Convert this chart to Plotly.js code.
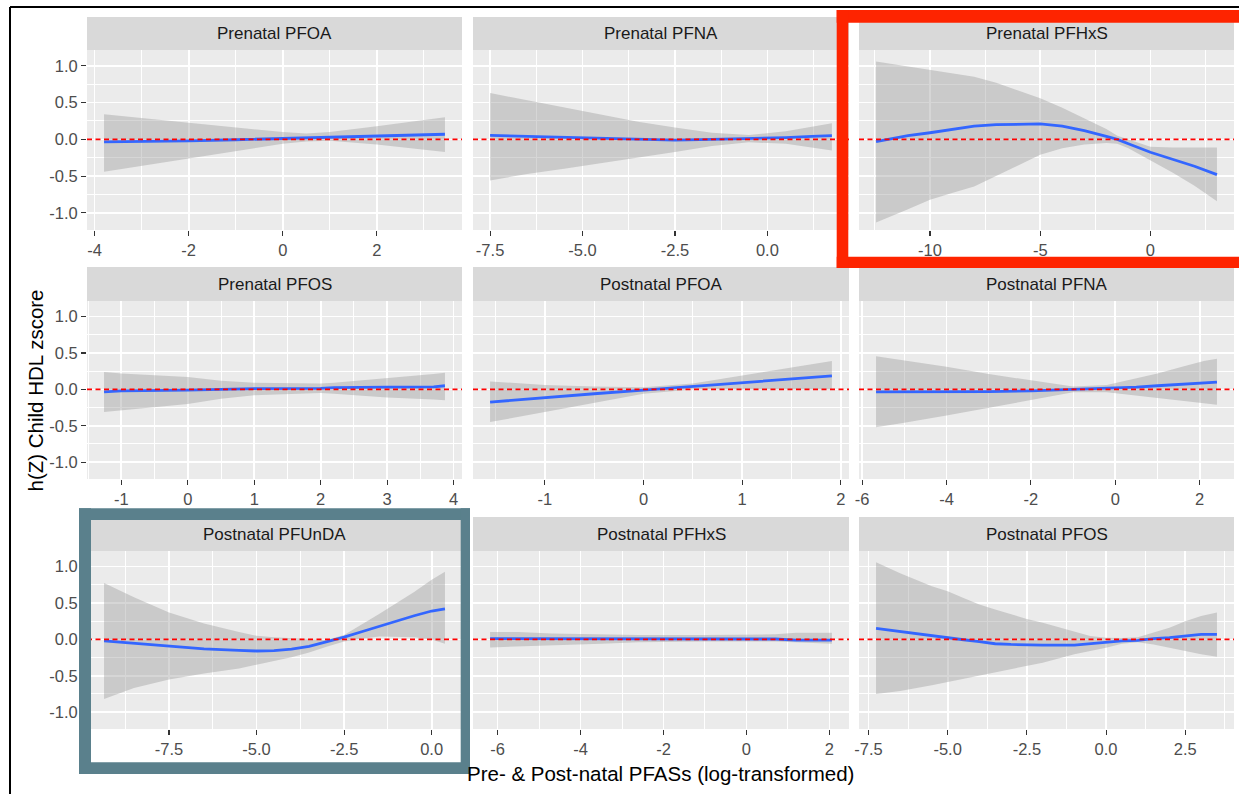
<!DOCTYPE html>
<html>
<head>
<meta charset="utf-8">
<script src="https://cdn.plot.ly/plotly-3.0.1.min.js"></script>
<style>html,body{margin:0;padding:0;background:#fff;}#chart{width:1239px;height:794px;}</style>
</head>
<body>
<div id="chart"></div>
<script>
// ---------------- DATA ----------------
const panelNames = ["Prenatal PFOA", "Prenatal PFNA", "Prenatal PFHxS",
                    "Prenatal PFOS", "Postnatal PFOA", "Postnatal PFNA",
                    "Postnatal PFUnDA", "Postnatal PFHxS", "Postnatal PFOS"];
const yTickVals = [-1, -0.5, 0, 0.5, 1];
const yTickText = ["-1.0", "-0.5", "0.0", "0.5", "1.0"];
const yMinorVals = [-0.75, -0.25, 0.25, 0.75];
const xTickStep = [2, 2.5, 5, 1, 1, 2, 2.5, 2, 2.5];
const xTickDecimals = [0, 1, 0, 0, 0, 0, 1, 0, 1];
const yAxisTitle = "h(Z) Child HDL zscore";
const xAxisTitle = "Pre- &amp; Post-natal PFASs (log-transformed)";

// Prenatal PFOA
const prePFOA_x   = [-3.8, -3.0, -2.0, -1.0, 0.0, 0.5, 1.0, 2.0, 3.0, 3.45];
const prePFOA_fit = [-0.035, -0.03, -0.02, -0.005, 0.01, 0.02, 0.03, 0.045, 0.06, 0.07];
const prePFOA_lo  = [-0.44, -0.36, -0.26, -0.16, -0.06, -0.03, -0.02, -0.07, -0.14, -0.17];
const prePFOA_hi  = [0.34, 0.29, 0.22, 0.16, 0.10, 0.08, 0.10, 0.18, 0.26, 0.30];
// Prenatal PFNA
const prePFNA_x   = [-7.5, -6.5, -5.5, -4.5, -3.5, -2.5, -1.5, -0.5, 0.5, 1.2, 1.745];
const prePFNA_fit = [0.055, 0.04, 0.03, 0.02, 0.0, -0.01, 0.0, 0.01, 0.025, 0.04, 0.05];
const prePFNA_lo  = [-0.56, -0.47, -0.40, -0.32, -0.25, -0.17, -0.09, -0.04, -0.06, -0.11, -0.15];
const prePFNA_hi  = [0.63, 0.53, 0.43, 0.33, 0.24, 0.16, 0.09, 0.06, 0.11, 0.17, 0.22];
// Prenatal PFHxS
const prePFHxS_x   = [-12.45, -11, -10, -9, -8, -7, -6, -5, -4, -3, -2, -1.5, -1, 0, 1, 2, 3.02];
const prePFHxS_fit = [-0.03, 0.05, 0.09, 0.14, 0.18, 0.20, 0.21, 0.21, 0.18, 0.12, 0.04, 0.0, -0.06, -0.175, -0.27, -0.365, -0.48];
const prePFHxS_lo  = [-1.13, -0.95, -0.82, -0.73, -0.64, -0.50, -0.35, -0.21, -0.12, -0.07, -0.05, -0.06, -0.12, -0.28, -0.45, -0.63, -0.84];
const prePFHxS_hi  = [1.06, 0.99, 0.95, 0.90, 0.85, 0.77, 0.67, 0.56, 0.43, 0.29, 0.14, 0.05, 0.0, -0.10, -0.11, -0.11, -0.11];
// Prenatal PFOS
const prePFOS_x   = [-1.26, -1.0, 0, 0.5, 1, 2, 2.2, 3, 3.7, 3.87];
const prePFOS_fit = [-0.035, -0.02, -0.01, 0.0, 0.01, 0.015, 0.025, 0.03, 0.035, 0.05];
const prePFOS_lo  = [-0.31, -0.28, -0.20, -0.13, -0.08, -0.05, -0.06, -0.11, -0.14, -0.15];
const prePFOS_hi  = [0.24, 0.22, 0.17, 0.12, 0.09, 0.08, 0.09, 0.15, 0.21, 0.23];
// Postnatal PFOA
const postPFOA_x   = [-1.555, -1, -0.5, 0, 0.5, 1, 1.5, 1.91];
const postPFOA_fit = [-0.175, -0.11, -0.06, -0.01, 0.04, 0.09, 0.14, 0.185];
const postPFOA_lo  = [-0.45, -0.31, -0.19, -0.06, 0.0, 0.0, 0.0, 0.0];
const postPFOA_hi  = [0.11, 0.06, 0.04, 0.03, 0.08, 0.19, 0.31, 0.39];
// Postnatal PFNA
const postPFNA_x   = [-5.67, -5, -4, -3, -2, -1, -0.2, 0.5, 1.0, 1.65, 2.1, 2.41];
const postPFNA_fit = [-0.035, -0.035, -0.033, -0.03, -0.02, 0.0, 0.015, 0.03, 0.05, 0.07, 0.09, 0.1];
const postPFNA_lo  = [-0.52, -0.46, -0.36, -0.26, -0.15, -0.04, -0.04, -0.08, -0.11, -0.16, -0.19, -0.21];
const postPFNA_hi  = [0.455, 0.40, 0.31, 0.21, 0.12, 0.04, 0.06, 0.15, 0.22, 0.32, 0.39, 0.42];
// Postnatal PFUnDA
const postPFUnDA_x   = [-9.355, -8.5, -7.5, -6.5, -5.5, -5, -4.5, -4, -3.5, -3, -2.5, -2, -1.5, -1, -0.5, 0, 0.38];
const postPFUnDA_fit = [-0.02, -0.05, -0.09, -0.13, -0.15, -0.16, -0.155, -0.135, -0.095, -0.035, 0.03, 0.105, 0.18, 0.255, 0.325, 0.39, 0.42];
const postPFUnDA_lo  = [-0.82, -0.67, -0.55, -0.47, -0.40, -0.35, -0.30, -0.245, -0.18, -0.10, -0.03, 0.01, 0.04, 0.04, 0.03, 0.0, -0.06];
const postPFUnDA_hi  = [0.775, 0.58, 0.37, 0.22, 0.10, 0.05, 0.03, 0.015, 0.0, -0.01, 0.06, 0.2, 0.35, 0.5, 0.65, 0.82, 0.93];
// Postnatal PFHxS
const postPFHxS_x   = [-6.18, -5.5, -4.7, -3.5, -2.6, -1, 0.7, 1.2, 2.06];
const postPFHxS_fit = [0.01, 0.01, 0.01, 0.005, 0.005, 0.005, 0.005, -0.01, -0.01];
const postPFHxS_lo  = [-0.11, -0.09, -0.08, -0.06, -0.04, -0.03, -0.03, -0.04, -0.06];
const postPFHxS_hi  = [0.10, 0.10, 0.08, 0.07, 0.06, 0.06, 0.07, 0.09, 0.09];
// Postnatal PFOS
const postPFOS_x   = [-7.26, -6.5, -5.5, -5, -4.5, -4, -3.5, -3, -2.5, -2, -1, -0.5, 0, 0.5, 1, 1.5, 2, 2.5, 3, 3.5];
const postPFOS_fit = [0.15, 0.105, 0.045, 0.023, -0.005, -0.03, -0.06, -0.07, -0.078, -0.078, -0.078, -0.06, -0.045, -0.02, -0.014, 0.01, 0.023, 0.045, 0.068, 0.07];
const postPFOS_lo  = [-0.75, -0.71, -0.63, -0.59, -0.545, -0.50, -0.455, -0.41, -0.365, -0.32, -0.205, -0.16, -0.114, -0.06, -0.04, -0.07, -0.11, -0.16, -0.205, -0.24];
const postPFOS_hi  = [1.06, 0.91, 0.73, 0.66, 0.57, 0.48, 0.41, 0.34, 0.28, 0.23, 0.11, 0.045, 0.023, 0.02, 0.03, 0.09, 0.16, 0.25, 0.32, 0.37];

const panelData = [
  [prePFOA_x, prePFOA_fit, prePFOA_lo, prePFOA_hi],
  [prePFNA_x, prePFNA_fit, prePFNA_lo, prePFNA_hi],
  [prePFHxS_x, prePFHxS_fit, prePFHxS_lo, prePFHxS_hi],
  [prePFOS_x, prePFOS_fit, prePFOS_lo, prePFOS_hi],
  [postPFOA_x, postPFOA_fit, postPFOA_lo, postPFOA_hi],
  [postPFNA_x, postPFNA_fit, postPFNA_lo, postPFNA_hi],
  [postPFUnDA_x, postPFUnDA_fit, postPFUnDA_lo, postPFUnDA_hi],
  [postPFHxS_x, postPFHxS_fit, postPFHxS_lo, postPFHxS_hi],
  [postPFOS_x, postPFOS_fit, postPFOS_lo, postPFOS_hi]
];

// ---------------- LAYOUT GEOMETRY (pixels) ----------------
const W = 1239, H = 794;
const fx = p => p / W;
const fy = p => 1 - p / H;
const colX = [[87, 462], [473, 849], [859, 1234]];
const rowY = [{strip: [17, 50], plot: [50, 230]},
              {strip: [267, 301], plot: [301, 479]},
              {strip: [517, 551], plot: [551, 729]}];
const yRange = [-1.232, 1.215];
const FONT = "Liberation Sans, Arial, sans-serif";

function fmt(v, d) {
  let s = Math.abs(v).toFixed(d);
  return (v < -1e-9 ? "-" : "") + s;
}

const traces = [];
const layout = {
  width: W, height: H,
  margin: {l: 0, r: 0, t: 0, b: 0},
  paper_bgcolor: "#ffffff",
  plot_bgcolor: "#ebebeb",
  showlegend: false,
  font: {family: FONT},
  shapes: [],
  annotations: []
};

panelData.forEach((d, i) => {
  const [xs, fit, lo, hi] = d;
  const col = i % 3, row = Math.floor(i / 3);
  const n = i === 0 ? "" : String(i + 1);
  const xmin = Math.min(...xs), xmax = Math.max(...xs);
  const ex = 0.05 * (xmax - xmin);
  const xr = [xmin - ex, xmax + ex];
  const step = xTickStep[i];
  const tv = [], tt = [], mv = [];
  for (let k = Math.ceil(xr[0] / step); k * step <= xr[1]; k++) {
    tv.push(k * step); tt.push(fmt(k * step, xTickDecimals[i]));
  }
  for (let k = Math.ceil(xr[0] / (step / 2)); k * step / 2 <= xr[1]; k++) {
    if (k % 2 !== 0) mv.push(k * step / 2);
  }

  // ribbon
  traces.push({
    type: "scatter", mode: "lines",
    x: xs.concat(xs.slice().reverse()),
    y: hi.concat(lo.slice().reverse()),
    fill: "toself", fillcolor: "rgba(153,153,153,0.4)",
    line: {width: 0}, hoverinfo: "skip",
    xaxis: "x" + n, yaxis: "y" + n
  });
  // fit line
  traces.push({
    type: "scatter", mode: "lines",
    x: xs, y: fit,
    line: {color: "#3366ff", width: 2.8},
    xaxis: "x" + n, yaxis: "y" + n
  });

  layout["xaxis" + n] = {
    domain: [fx(colX[col][0]), fx(colX[col][1])],
    anchor: "y" + n,
    range: xr,
    tickmode: "array", tickvals: tv, ticktext: tt,
    ticks: "outside", ticklen: 5, tickwidth: 1.1, tickcolor: "#333333",
    tickfont: {size: 16.5, color: "#4d4d4d", family: FONT},
    showgrid: true, gridcolor: "#ffffff", gridwidth: 1.7,
    minor: {tickmode: "array", tickvals: mv, showgrid: true, gridcolor: "#ffffff", gridwidth: 1.0, ticks: ""},
    zeroline: false, showline: false, fixedrange: true
  };
  layout["yaxis" + n] = {
    domain: [fy(rowY[row].plot[1]), fy(rowY[row].plot[0])],
    anchor: "x" + n,
    range: yRange,
    tickmode: "array", tickvals: yTickVals, ticktext: yTickText,
    ticks: col === 0 ? "outside" : "", ticklen: 5, tickwidth: 1.1, tickcolor: "#333333",
    showticklabels: col === 0,
    tickfont: {size: 16.5, color: "#4d4d4d", family: FONT},
    showgrid: true, gridcolor: "#ffffff", gridwidth: 1.7,
    minor: {tickmode: "array", tickvals: yMinorVals, showgrid: true, gridcolor: "#ffffff", gridwidth: 1.0, ticks: ""},
    zeroline: false, showline: false, fixedrange: true
  };

  // strip
  layout.shapes.push({
    type: "rect", xref: "paper", yref: "paper", layer: "above",
    x0: fx(colX[col][0]), x1: fx(colX[col][1]),
    y0: fy(rowY[row].strip[1]), y1: fy(rowY[row].strip[0]),
    fillcolor: "#d9d9d9", line: {width: 0}
  });
  layout.annotations.push({
    xref: "paper", yref: "paper",
    x: fx((colX[col][0] + colX[col][1]) / 2),
    y: fy((rowY[row].strip[0] + rowY[row].strip[1]) / 2),
    xanchor: "center", yanchor: "middle", showarrow: false,
    text: panelNames[i],
    font: {size: 17, color: "#1a1a1a", family: FONT}
  });
  // reference line at 0
  layout.shapes.push({
    type: "line", xref: "x" + n + " domain", yref: "y" + n, layer: "above",
    x0: 0, x1: 1, y0: 0, y1: 0,
    line: {color: "#ff0000", width: 1.6, dash: "5px,3.5px"}
  });
});

// axis titles
layout.annotations.push({
  xref: "paper", yref: "paper", x: fx(660), y: fy(773),
  xanchor: "center", yanchor: "middle", showarrow: false,
  text: xAxisTitle, font: {size: 20.5, color: "#000000", family: FONT}
});
layout.annotations.push({
  xref: "paper", yref: "paper", x: fx(34.5), y: fy(391),
  xanchor: "center", yanchor: "middle", showarrow: false, textangle: -90,
  text: yAxisTitle, font: {size: 20.5, color: "#000000", family: FONT}
});

// outer black frame (top and left edges visible)
layout.shapes.push({type: "line", xref: "paper", yref: "paper", layer: "above",
  x0: fx(10), x1: 1, y0: fy(7), y1: fy(7), line: {color: "#000000", width: 2}});
layout.shapes.push({type: "line", xref: "paper", yref: "paper", layer: "above",
  x0: fx(10), x1: fx(10), y0: fy(7), y1: 0, line: {color: "#000000", width: 2}});

// highlight boxes drawn as filled bands
function band(x0, x1, y0, y1, c) {
  layout.shapes.push({type: "rect", xref: "paper", yref: "paper", layer: "above",
    x0: fx(x0), x1: fx(x1), y0: fy(y1), y1: fy(y0), fillcolor: c, line: {width: 0}});
}
const RED = "#fe2400", TEAL = "#5a808c";
band(836.7, 1239, 10, 22.7, RED);
band(836.7, 1239, 256.7, 268, RED);
band(836.7, 848.3, 10, 268, RED);
band(79, 470, 508.3, 520, TEAL);
band(79, 470, 762.3, 774, TEAL);
band(79, 91, 508.3, 774, TEAL);
band(460.7, 470, 508.3, 774, TEAL);

Plotly.newPlot("chart", traces, layout, {displayModeBar: false, staticPlot: true});
</script>
</body>
</html>
